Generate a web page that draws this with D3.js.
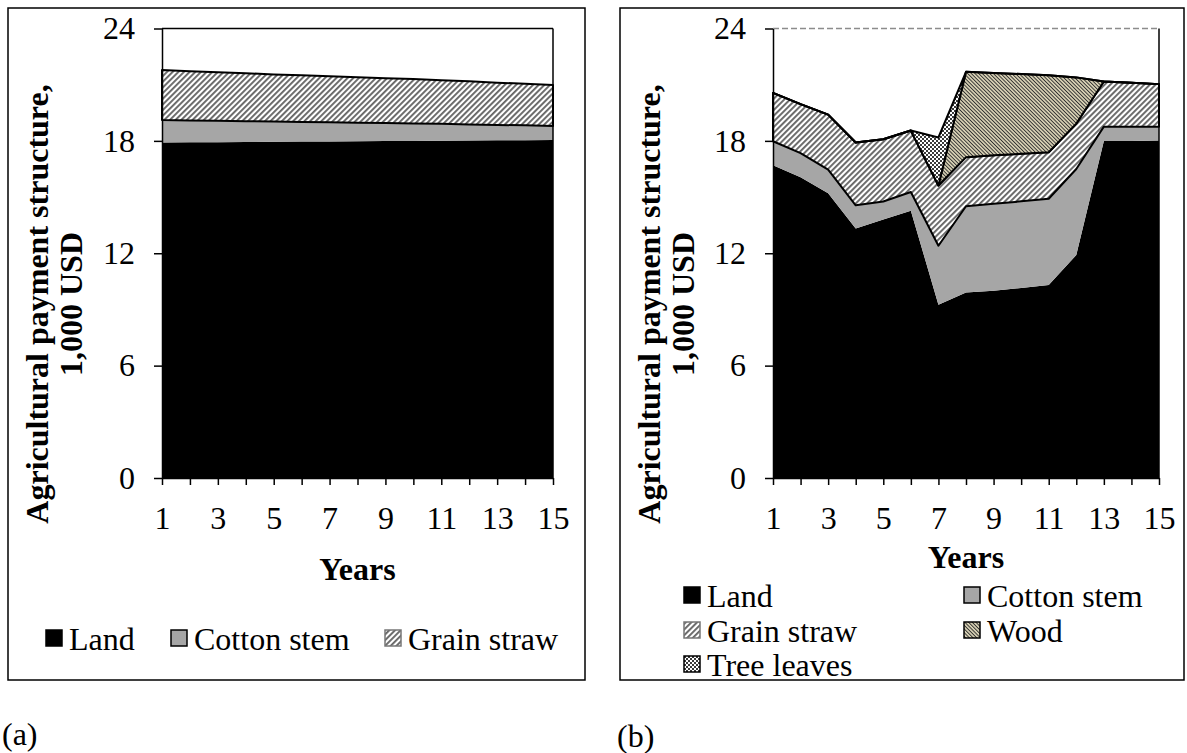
<!DOCTYPE html>
<html>
<head>
<meta charset="utf-8">
<script src="https://cdn.jsdelivr.net/npm/d3@7"></script>
<style>
  body { margin: 0; background: #fff; }
  svg text { font-family: 'Liberation Serif', 'Times New Roman', serif; fill: #000; }
</style>
</head>
<body>
<svg id="chart" width="1187" height="753"></svg>
<script>
// data (1,000 USD)
const years = [1, 2, 3, 4, 5, 6, 7, 8, 9, 10, 11, 12, 13, 14, 15];
const xTickLabels = [1, 3, 5, 7, 9, 11, 13, 15];
const yTicks = [0, 6, 12, 18, 24];

// panel (a)
const landA   = [17.91, 17.92, 17.93, 17.94, 17.95, 17.96, 17.97, 17.98, 17.99, 18.00, 18.01, 18.02, 18.03, 18.04, 18.05];
const cottonA = [1.21, 1.17, 1.14, 1.11, 1.08, 1.05, 1.02, 0.99, 0.96, 0.93, 0.90, 0.86, 0.82, 0.79, 0.75];
const strawA  = [2.66, 2.63, 2.59, 2.56, 2.52, 2.49, 2.46, 2.43, 2.40, 2.37, 2.33, 2.30, 2.26, 2.22, 2.18];

// panel (b)
const landB   = [16.70, 16.06, 15.21, 13.32, 13.80, 14.27, 9.25, 9.90, 10.00, 10.15, 10.30, 11.90, 18.00, 18.00, 18.02];
const cottonB = [1.28, 1.29, 1.26, 1.24, 0.96, 1.00, 3.15, 4.61, 4.64, 4.62, 4.61, 4.60, 0.76, 0.76, 0.74];
const strawB  = [2.58, 2.61, 2.93, 3.35, 3.33, 3.28, 3.22, 2.62, 2.59, 2.54, 2.48, 2.42, 2.41, 2.34, 2.27];
const woodB   = [0, 0, 0, 0, 0, 0, 0, 4.56, 4.40, 4.26, 4.12, 2.47, 0, 0, 0];
const leavesB = [0, 0, 0, 0, 0, 0, 2.56, 0, 0, 0, 0, 0, 0, 0, 0];

const svg = d3.select('#chart');
const FONT = 32;

// patterns
const defs = svg.append('defs');
defs.append('pattern')
    .attr('id', 'straw').attr('patternUnits', 'userSpaceOnUse')
    .attr('width', 4).attr('height', 4)
    .attr('patternTransform', 'rotate(45)')
  .call(p => {
    p.append('rect').attr('width', 4).attr('height', 4).attr('fill', '#fff');
    p.append('rect').attr('width', 1.9).attr('height', 4).attr('fill', '#666');
  });
defs.append('pattern')
    .attr('id', 'wood').attr('patternUnits', 'userSpaceOnUse')
    .attr('width', 2.6).attr('height', 2.6)
    .attr('patternTransform', 'rotate(-45)')
  .call(p => {
    p.append('rect').attr('width', 2.6).attr('height', 2.6).attr('fill', '#d8d1b4');
    p.append('rect').attr('width', 0.9).attr('height', 2.6).attr('fill', '#2e2e2e');
  });
defs.append('pattern')
    .attr('id', 'leaves').attr('patternUnits', 'userSpaceOnUse')
    .attr('width', 4).attr('height', 4)
  .call(p => {
    p.append('rect').attr('width', 4).attr('height', 4).attr('fill', '#fff');
    p.append('rect').attr('width', 2).attr('height', 2).attr('fill', '#3a3a3a');
    p.append('rect').attr('x', 2).attr('y', 2).attr('width', 2).attr('height', 2).attr('fill', '#3a3a3a');
  });

const styles = {
  land:   { name: 'Land',        fill: '#000',         stroke: 'none', key: '#000' },
  cotton: { name: 'Cotton stem', fill: '#a6a6a6',      stroke: 'none', key: '#000' },
  straw:  { name: 'Grain straw', fill: 'url(#straw)',  stroke: '#000', key: '#777' },
  wood:   { name: 'Wood',        fill: 'url(#wood)',   stroke: '#000', key: '#000' },
  leaves: { name: 'Tree leaves', fill: 'url(#leaves)', stroke: '#000', key: '#000' }
};

function drawPanel(cfg) {
  const g = svg.append('g');

  // outer frame
  g.append('rect')
    .attr('x', cfg.frame[0]).attr('y', cfg.frame[1])
    .attr('width', cfg.frame[2] - cfg.frame[0]).attr('height', cfg.frame[3] - cfg.frame[1])
    .attr('fill', 'none').attr('stroke', '#000').attr('stroke-width', 1.5);

  const x = d3.scaleLinear().domain([1, 15]).range([cfg.left, cfg.right]);
  const y = d3.scaleLinear().domain([0, 24]).range([cfg.bottom, cfg.top]);

  const rows = years.map((yr, i) => {
    const r = { year: yr };
    cfg.keys.forEach(k => { r[k] = cfg.series[k][i]; });
    return r;
  });
  const stacked = d3.stack().keys(cfg.keys)(rows);

  const area = d3.area()
      .x(d => x(d.data.year))
      .y0(d => y(d[0]))
      .y1(d => y(d[1]));

  g.selectAll('path.layer')
    .data(stacked)
    .join('path')
      .attr('class', 'layer')
      .attr('d', area)
      .attr('fill', d => styles[d.key].fill)
      .attr('stroke', d => styles[d.key].stroke)
      .attr('stroke-width', 2)
      .attr('stroke-linejoin', 'round');

  // plot border: top + right
  g.append('line')
    .attr('x1', cfg.left).attr('x2', cfg.right)
    .attr('y1', y(24)).attr('y2', y(24))
    .attr('stroke', cfg.dashedTop ? '#8c8c8c' : '#000')
    .attr('stroke-width', 1.5)
    .attr('stroke-dasharray', cfg.dashedTop ? '6,3' : null);
  g.append('line')
    .attr('x1', cfg.right).attr('x2', cfg.right)
    .attr('y1', y(24)).attr('y2', y(0))
    .attr('stroke', '#000').attr('stroke-width', 1.5);

  // axes
  const yAxis = g.append('g')
      .attr('transform', `translate(${cfg.left},0)`)
      .call(d3.axisLeft(y).tickValues(yTicks).tickSize(8).tickSizeOuter(0).tickPadding(19));
  const xAxis = g.append('g')
      .attr('transform', `translate(0,${cfg.bottom})`)
      .call(d3.axisBottom(x).tickValues(years).tickSize(7).tickSizeOuter(0).tickPadding(21)
        .tickFormat(d => xTickLabels.includes(d) ? d : ''));
  [yAxis, xAxis].forEach(a => {
    a.selectAll('path, line').attr('stroke', '#000').attr('stroke-width', 1.5);
    a.selectAll('text')
      .style('font-family', "'Liberation Serif', 'Times New Roman', serif")
      .style('font-size', FONT + 'px')
      .attr('fill', '#000');
  });

  // y-axis title (two lines)
  const cy = 304;
  [['Agricultural payment structure,', cfg.frame[0] + 40], ['1,000 USD', cfg.frame[0] + 74]]
    .forEach(([t, bx]) => {
      g.append('text')
        .attr('transform', `translate(${bx},${cy}) rotate(-90)`)
        .attr('text-anchor', 'middle')
        .style('font-size', FONT + 'px')
        .style('font-weight', 'bold')
        .text(t);
    });

  // x-axis title
  g.append('text')
    .attr('x', (cfg.left + cfg.right) / 2)
    .attr('y', cfg.xTitleY)
    .attr('text-anchor', 'middle')
    .style('font-size', FONT + 'px')
    .style('font-weight', 'bold')
    .text('Years');

  // legend
  cfg.legend.forEach(item => {
    const s = styles[item.key];
    g.append('rect')
      .attr('x', item.x).attr('y', item.base - 20)
      .attr('width', 16).attr('height', 16)
      .attr('fill', s.fill)
      .attr('stroke', s.key).attr('stroke-width', 1.5);
    g.append('text')
      .attr('x', item.x + 23).attr('y', item.base)
      .style('font-size', FONT + 'px')
      .text(s.name);
  });

  // panel tag
  g.append('text')
    .attr('x', cfg.tag[0]).attr('y', cfg.tag[1])
    .style('font-size', FONT + 'px')
    .text(cfg.tag[2]);
}

drawPanel({
  frame: [8, 8, 585, 680],
  left: 162, right: 553, top: 28.5, bottom: 478,
  keys: ['land', 'cotton', 'straw'],
  series: { land: landA, cotton: cottonA, straw: strawA },
  dashedTop: false,
  xTitleY: 580,
  legend: [
    { key: 'land', x: 46, base: 650 },
    { key: 'cotton', x: 171, base: 650 },
    { key: 'straw', x: 385, base: 650 }
  ],
  tag: [2, 745, '(a)']
});

drawPanel({
  frame: [620, 8, 1184, 680],
  left: 773, right: 1159, top: 28.5, bottom: 478,
  keys: ['land', 'cotton', 'straw', 'wood', 'leaves'],
  series: { land: landB, cotton: cottonB, straw: strawB, wood: woodB, leaves: leavesB },
  dashedTop: true,
  xTitleY: 568,
  legend: [
    { key: 'land', x: 684, base: 607 },
    { key: 'cotton', x: 964, base: 607 },
    { key: 'straw', x: 684, base: 642 },
    { key: 'wood', x: 964, base: 642 },
    { key: 'leaves', x: 684, base: 676 }
  ],
  tag: [617, 747, '(b)']
});
</script>
</body>
</html>
